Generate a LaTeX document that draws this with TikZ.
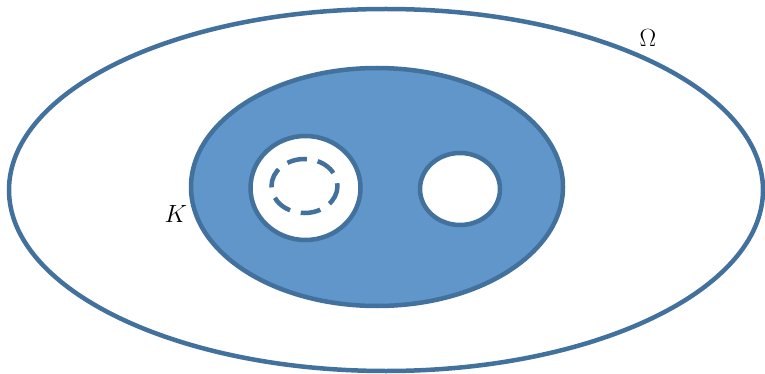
\documentclass[tikz,border=0pt]{standalone}
\usepackage{amsmath}
\definecolor{rim}{RGB}{65,113,156}
\definecolor{setfill}{RGB}{96,150,202}
\tikzset{
  rimline/.style={draw=rim, line width=4.5pt},
  lbl/.style={font=\fontsize{27}{30}\selectfont}
}
\begin{document}
\begin{tikzpicture}[x=1pt, y=-1pt]
    \useasboundingbox (0,0) rectangle (765,374);
    % Outer domain
    \draw[rimline] (386,190) ellipse [x radius=377, y radius=181];
    \node[lbl] (omega) at (648,38) {$\Omega$};
    % Compact set K
    \draw[rimline, fill=setfill] (377,187) ellipse [x radius=186, y radius=119];
    \node[lbl] (k) at (176,214) {$K$};
    % Holes
    \draw[rimline, fill=white] (305.5,188) ellipse [x radius=55, y radius=52];
    \draw[rimline, dash pattern=on 20pt off 11pt] (304.5,186) ellipse [x radius=33, y radius=27];
    \draw[rimline, fill=white] (460,189) ellipse [x radius=40, y radius=36];
\end{tikzpicture}
\end{document}
